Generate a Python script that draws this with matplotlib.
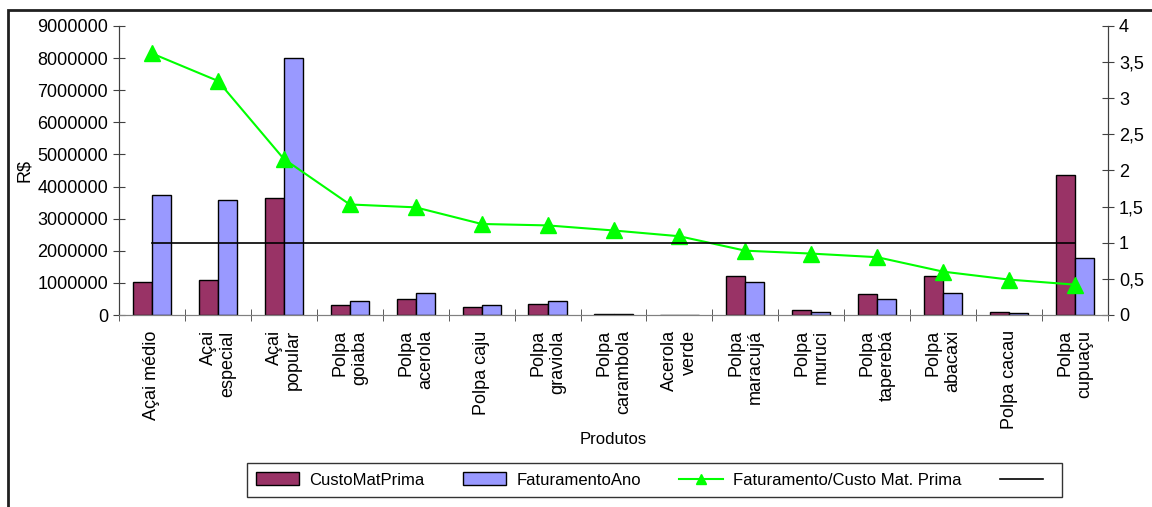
import numpy as np
import matplotlib
import matplotlib.pyplot as plt
from matplotlib.patches import Rectangle
from matplotlib.ticker import FuncFormatter, FixedLocator, NullFormatter
matplotlib.use('Agg')

plt.rcParams['font.family'] = ['Liberation Sans', 'DejaVu Sans']

produtos = ["Açai médio", "Açai\nespecial", "Açai\npopular", "Polpa\ngoiaba",
            "Polpa\nacerola", "Polpa caju", "Polpa\ngraviola", "Polpa\ncarambola",
            "Acerola\nverde", "Polpa\nmaracujá", "Polpa\nmuruci", "Polpa\ntaperebá",
            "Polpa\nabacaxi", "Polpa cacau", "Polpa\ncupuaçu"]
custo_mat_prima = [1040000, 1090000, 3650000, 310000, 500000, 260000, 350000, 40000,
                   0, 1200000, 160000, 660000, 1200000, 100000, 4350000]
faturamento_ano = [3750000, 3590000, 8000000, 450000, 700000, 300000, 450000, 20000,
                   0, 1040000, 100000, 500000, 700000, 50000, 1790000]
razao = [3.62, 3.24, 2.16, 1.53, 1.49, 1.26, 1.24, 1.17, 1.09, 0.89, 0.85, 0.80,
         0.60, 0.49, 0.42]
referencia = [1] * len(produtos)

x = np.arange(len(produtos))
w = 0.29

fig = plt.figure(figsize=(11.52, 5.07), dpi=100)
ax = fig.add_axes([119 / 1152, 1 - 315 / 507, (1108 - 119) / 1152, (315 - 26) / 507])
ax2 = ax.twinx()

b1 = ax.bar(x - w / 2, custo_mat_prima, w, color='#993366', edgecolor='black',
            linewidth=1, label='CustoMatPrima')
b2 = ax.bar(x + w / 2, faturamento_ano, w, color='#9999FF', edgecolor='black',
            linewidth=1, label='FaturamentoAno')

l1, = ax2.plot(x, razao, color='#00FF00', linewidth=1.5, marker='^', markersize=11,
               label='Faturamento/Custo Mat. Prima')
l2, = ax2.plot(x, referencia, color='black', linewidth=1.2, label=' ')

ax.set_xlim(-0.5, len(produtos) - 0.5)
ax.set_ylim(0, 9000000)
ax2.set_ylim(0, 4)

ax.set_yticks(np.arange(0, 9000001, 1000000))
ax.yaxis.set_major_formatter(FuncFormatter(lambda v, p: f"{int(v)}"))
ax2.set_yticks(np.arange(0, 4.01, 0.5))
ax2.yaxis.set_major_formatter(FuncFormatter(lambda v, p: f"{v:g}".replace('.', ',')))

ax.set_xticks(x)
ax.set_xticklabels(produtos, rotation=90, va='top', ha='center', multialignment='right',
                   fontsize=13)
ax.tick_params(axis='x', which='major', length=0, pad=11)
ax.xaxis.set_minor_locator(FixedLocator(np.arange(-0.5, len(produtos), 1)))
ax.xaxis.set_minor_formatter(NullFormatter())
ax.tick_params(axis='x', which='minor', direction='inout', length=8, color='#404040')

ax.tick_params(axis='y', direction='inout', length=9, labelsize=13, color='#404040')
ax2.tick_params(axis='y', direction='inout', length=9, labelsize=13, color='#404040')

for a in (ax, ax2):
    a.spines['top'].set_visible(False)
    a.spines['left'].set_color('#404040')
    a.spines['right'].set_color('#404040')
    a.spines['bottom'].set_color('#808080')

fig.text(24 / 1152, 1 - 171 / 507, "R$", rotation=90, ha='center', va='center', fontsize=13)
fig.text(613 / 1152, 1 - 440 / 507, "Produtos", ha='center', va='center', fontsize=12)

leg = fig.legend([b1, b2, l1, l2],
                 ['CustoMatPrima', 'FaturamentoAno', 'Faturamento/Custo Mat. Prima', ''],
                 loc='center', bbox_to_anchor=(654.5 / 1152, 1 - 480 / 507), ncol=4,
                 fontsize=12, frameon=True, fancybox=False, edgecolor='black',
                 handlelength=2.6, handleheight=0.8, columnspacing=2.3,
                 borderpad=0.55, handletextpad=0.6, markerscale=0.6)
leg.get_frame().set_linewidth(1.0)

fig.patches.append(Rectangle((8 / 1152, -0.1), 2, 1 - 10 / 507 + 0.1,
                             transform=fig.transFigure, fill=False,
                             edgecolor='#202020', linewidth=2))

fig.savefig('out.png', dpi=100)
